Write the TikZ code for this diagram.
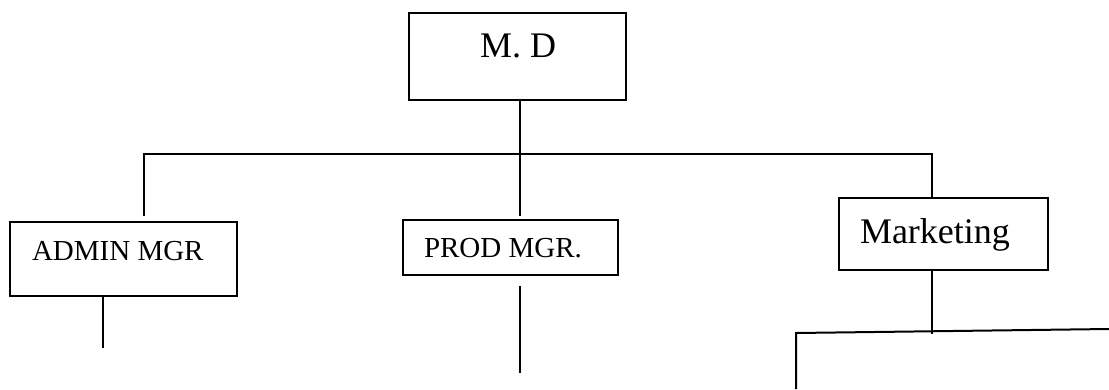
\documentclass[tikz,border=0pt]{standalone}
\usepackage{fontspec}
\setmainfont{Liberation Serif}
\begin{document}
\begin{tikzpicture}[x=1bp,y=-1bp,line width=2bp,
  box/.style={draw,rectangle,inner sep=0pt,anchor=north west},
  bigtext/.style={font=\fontsize{36bp}{40bp}\selectfont,anchor=base west,inner sep=0pt},
  smalltext/.style={font=\fontsize{29bp}{33bp}\selectfont,anchor=base west,inner sep=0pt}]
\useasboundingbox (0,0) rectangle (1109,389);

% boxes
\node[box,minimum width=217bp,minimum height=87bp] (md) at (408,12) {};
\node[box,minimum width=227bp,minimum height=74bp] (admin) at (9,221) {};
\node[box,minimum width=215bp,minimum height=55bp] (prod) at (402,219) {};
\node[box,minimum width=209bp,minimum height=72bp] (mkt) at (838,197) {};

% labels
\node[bigtext] (mdlabel) at (479,57) {M. D};
\node[smalltext] (adminlabel) at (31,260) {ADMIN MGR};
\node[smalltext] (prodlabel) at (423,257) {PROD MGR.};
\node[bigtext] (mktlabel) at (859,243) {Marketing};

% connector points
\coordinate (trunk) at (520,154);
\coordinate (leftdrop) at (144,216);
\coordinate (leftcorner) at (144,154);
\coordinate (rightcorner) at (932,154);
\coordinate (prodtop) at (520,216);
\coordinate (adminend) at (103,348);
\coordinate (prodstart) at (520,286);
\coordinate (prodend) at (520,373);
\coordinate (mktend) at (932,334);
\coordinate (subleft) at (796,389);
\coordinate (subcorner) at (796,333);
\coordinate (subright) at (1109,329);

% connectors
\draw (trunk |- md.south) -- (prodtop);
\draw (leftdrop) -- (leftcorner) -- (rightcorner) -- (rightcorner |- mkt.north);
\draw (adminend |- admin.south) -- (adminend);
\draw (prodstart) -- (prodend);
\draw (mktend |- mkt.south) -- (mktend);
\draw (subleft) -- (subcorner) -- (subright);
\end{tikzpicture}
\end{document}
